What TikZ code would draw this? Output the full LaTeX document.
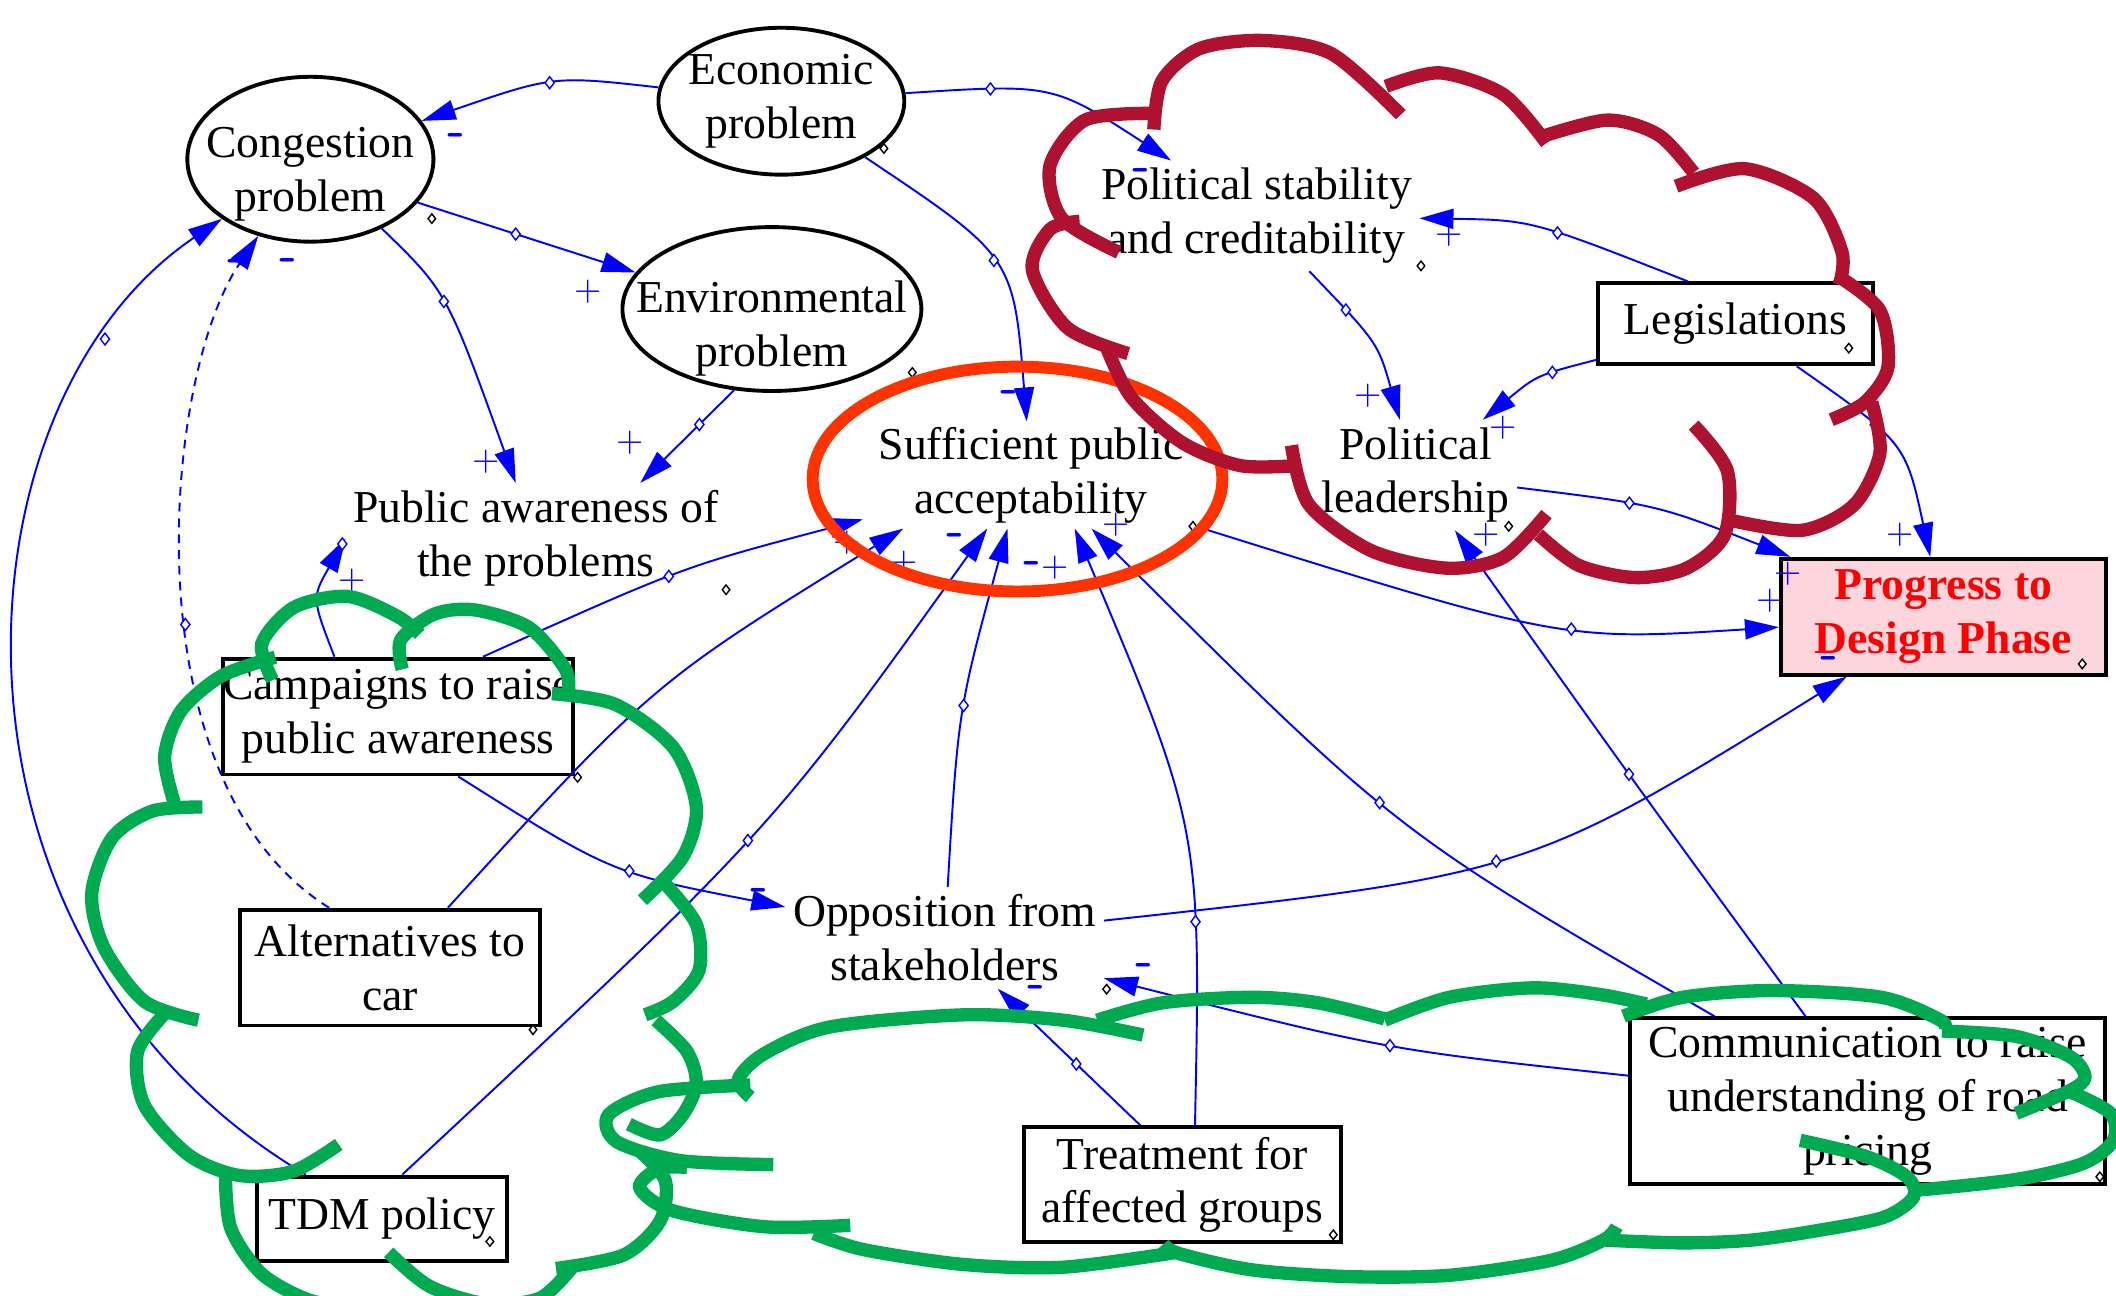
\documentclass[tikz,border=0pt]{standalone}
\usepackage{fontspec}
\setmainfont{Liberation Serif}
\usetikzlibrary{shapes.geometric,arrows.meta,calc,decorations.markings}

\definecolor{linkblue}{RGB}{0,0,255}
\definecolor{cloudred}{RGB}{174,18,48}
\definecolor{cloudgreen}{RGB}{0,170,80}
\definecolor{ringred}{RGB}{255,51,0}
\definecolor{phasepink}{RGB}{252,214,220}

\tikzset{
  var/.style={font=\fontsize{13}{15.3}\selectfont, align=center, inner sep=2pt},
  issue/.style={var, ellipse, draw, line width=1.1pt, inner ysep=-2mm},
  policy/.style={var, rectangle, draw, line width=1.1pt, inner sep=0pt},
  link/.style={linkblue, line width=0.55pt, -{Triangle[length=3.4mm,width=2mm]}},
  hub/.style={postaction={decorate, decoration={markings, mark=at position #1 with {\pgftransformresetnontranslations
    \draw[linkblue, solid, fill=white, line width=0.4pt] (0pt,1.7pt) -- (1.3pt,0pt) -- (0pt,-1.7pt) -- (-1.3pt,0pt) -- cycle;}}}},
  plusmark/.style={linkblue, font=\sffamily\fontsize{10}{10}\selectfont, inner sep=0pt},
  minusmark/.style={linkblue, font=\sffamily\bfseries\fontsize{14}{14}\selectfont, inner sep=0pt},
  tagmark/.style={black, fill=white, line width=0.4pt},
  lobe/.style={line width=3.8pt, line cap=butt},
  ring/.style={ellipse, draw=ringred, line width=3.4pt, minimum width=4.1cm, minimum height=2.25cm, inner sep=0pt}
}

\begin{document}
\begin{tikzpicture}[x=0.0135cm, y=-0.0135cm]
\fill[white] (0,0) rectangle (1568,960);
\useasboundingbox (0,0) rectangle (1568,960);

\node[issue, minimum width=2.46cm, minimum height=1.47cm, inner xsep=-0.6mm] (econ) at (579,75) {Economic\\problem};
\node[issue, minimum width=2.46cm, minimum height=1.65cm, inner xsep=-1.7mm] (cong) at (230,118) {\rule{0pt}{17pt}Congestion\\problem};
\node[issue, minimum width=2.99cm, minimum height=1.64cm, inner xsep=-3mm] (env) at (572,229) {\rule{0pt}{20pt}Environmental\\problem};
\node[var] (aware) at (397,399) {Public awareness of\\the problems};
\node[var, inner xsep=0.15cm, inner ysep=0.05cm] (suff) at (764,352) {Sufficient public\\acceptability};
\node[var] (polstab) at (931,160) {Political stability\\and creditability};
\node[var] (pollead) at (1049,352) {Political\\leadership};
\node[var] (opp) at (700,695) {Opposition from\\stakeholders};
\node[policy, minimum width=2.75cm, minimum height=0.81cm] (legis) at (1286,240) {Legislations};
\node[policy, minimum width=3.25cm, minimum height=1.16cm, fill=phasepink, text=red, font=\fontsize{13}{15.3}\selectfont\bfseries] (goal) at (1440,457) {Progress to\\Design Phase};
\node[policy, minimum width=3.50cm, minimum height=1.16cm] (camp) at (295,531) {Campaigns to raise\\public awareness};
\node[policy, minimum width=3.01cm, minimum height=1.16cm] (alt) at (289,717) {Alternatives to\\car};
\node[policy, minimum width=2.50cm, minimum height=0.84cm] (tdm) at (283,903) {TDM policy};
\node[policy, minimum width=3.17cm, minimum height=1.15cm] (treat) at (876,878) {Treatment for\\affected groups};
\node[policy, minimum width=4.75cm, minimum height=1.66cm] (comm) at (1384,816) {Communication to raise\\understanding of road\\pricing};

\foreach \p in {(320,162),(655,110),(676,276),(1053,197),(1370,258),(1543,492),(428,576),(395,763),(363,920),(988,915),(1556,872),(820,733),(884,390),(1118,390),(538,437)}
  \draw[tagmark] \p ++(0,-3.5) -- ++(2.8,3.5) -- ++(-2.8,3.5) -- ++(-2.8,-3.5) -- cycle;

\draw[link, hub=0.45] (econ) .. controls (410,56) .. (cong);
\draw[link, hub=0.3] (econ) .. controls (780,62) .. (polstab);
\draw[link, hub=0.5] (econ) .. controls (751,190) .. (suff);
\draw[link, hub=0.45] (cong.-22) -- (env.165);
\draw[link, hub=0.33] (cong) .. controls (331,216) .. (aware);
\draw[link, hub=0.37] (env.-115) -- (aware.28);
\draw[link, hub=0.95] ($(camp.north west)!0.32!(camp.north east)$) .. controls (231,443) .. (aware.west);
\draw[link, hub=0.5] ($(camp.north west)!0.74!(camp.north east)$) .. controls (506,420) .. (suff);
\draw[link, hub=0.45] ($(alt.north west)!0.69!(alt.north east)$) .. controls (484,506) .. ($(suff.south west)!0.12!(suff.south east)$);
\draw[link, hub=0.55] ($(tdm.north west)!0.58!(tdm.north east)$) .. controls (571,616) .. ($(suff.south west)!0.37!(suff.south east)$);
\draw[link, hub=0.5] (opp) .. controls (710,526) .. ($(suff.south west)!0.43!(suff.south east)$);
\draw[link, hub=0.33] ($(treat.north west)!0.54!(treat.north east)$) .. controls (890,614) .. ($(suff.south west)!0.63!(suff.south east)$);
\draw[link, hub=0.5] ($(comm.north west)!0.18!(comm.north east)$) .. controls (1035,617) .. ($(suff.south west)!0.68!(suff.south east)$);
\draw[link, hub=0.65] (suff) .. controls (1158,475) .. (goal);
\draw[link, hub=0.3] (polstab) .. controls (1021,254) .. (pollead);
\draw[link, hub=0.5] ($(legis.north west)!0.33!(legis.north east)$) .. controls (1135,163) .. (polstab);
\draw[link, hub=0.35] (legis) .. controls (1139,278) .. (pollead);
\draw[link, hub=0.4] ($(legis.south west)!0.72!(legis.south east)$) .. controls (1412,328) .. (goal);
\draw[link, hub=0.4] (pollead) .. controls (1228,374) .. (goal);
\draw[link, hub=0.5] ($(comm.north west)!0.37!(comm.north east)$) .. controls (1214,584) .. (pollead);
\draw[link, hub=0.5] (opp) .. controls (1132,648) .. (goal);
\draw[link, hub=0.55] ($(camp.south west)!0.67!(camp.south east)$) .. controls (453,647) .. (opp);
\draw[link, hub=0.45] ($(treat.north west)!0.37!(treat.north east)$) -- (opp);
\draw[link, hub=0.45] (comm) .. controls (1028,778) .. (opp);
\draw[link, hub=0.85] ($(tdm.north west)!0.2!(tdm.north east)$) .. controls (-60,700) and (-40,300) .. (cong);
\draw[link, dash pattern=on 2.5pt off 2pt, hub=0.45] ($(alt.north west)!0.3!(alt.north east)$) .. controls (95,580) and (120,280) .. (cong);

\foreach \pt [count=\i] in {(436,216),(360,342),(467,328),(261,430),(628,402),(670,417),(782,421),(827,389),(1014,293),(1074,174),(1114,317),(1101,396),(1408,396),(1325,425),(1312,445)}
  \node[plusmark] (plus\i) at \pt {+};
\foreach \pt [count=\i] in {(338,104),(846,130),(748,294),(708,400),(765,421),(1356,491),(563,663),(768,735),(848,719),(175,197),(214,196)}
  \node[minusmark] (minus\i) at \pt {-};

\node[ring] (ring) at (754,355) {};

\draw[lobe, cloudred] plot[smooth] coordinates {(855,96) (861,60) (889,36) (936,30) (987,40) (1038,85)};
\draw[lobe, cloudred] plot[smooth] coordinates {(1027,64) (1067,54) (1114,70) (1146,106)};
\draw[lobe, cloudred] plot[smooth] coordinates {(1140,102) (1191,89) (1229,100) (1255,128)};
\draw[lobe, cloudred] plot[smooth] coordinates {(1242,138) (1293,125) (1344,147) (1365,187) (1363,211)};
\draw[lobe, cloudred] plot[smooth] coordinates {(1361,204) (1393,230) (1399,272) (1382,298) (1357,311)};
\draw[lobe, cloudred] plot[smooth] coordinates {(1387,298) (1393,336) (1374,374) (1335,393) (1280,385)};
\draw[lobe, cloudred] plot[smooth] coordinates {(1255,315) (1280,349) (1278,396) (1250,421) (1212,428) (1170,419) (1140,396)};
\draw[lobe, cloudred] plot[smooth] coordinates {(1146,381) (1114,413) (1072,421) (1016,408) (970,374) (957,330)};
\draw[lobe, cloudred] plot[smooth] coordinates {(961,345) (919,345) (876,328) (838,294) (819,255)};
\draw[lobe, cloudred] plot[smooth] coordinates {(836,262) (791,243) (765,200) (778,170) (800,164)};
\draw[lobe, cloudred] plot[smooth] coordinates {(829,187) (787,162) (778,123) (804,89) (853,84)};

\draw[lobe, cloudgreen] plot[smooth] coordinates {(202,504) (194,477) (218,450) (258,442) (295,457) (311,470)};
\draw[lobe, cloudgreen] plot[smooth] coordinates {(298,496) (297,474) (322,455) (352,452) (392,465) (419,496) (421,514)};
\draw[lobe, cloudgreen] plot[smooth] coordinates {(409,514) (456,522) (499,554) (516,598) (506,635) (476,667)};
\draw[lobe, cloudgreen] plot[smooth] coordinates {(493,655) (516,685) (518,719) (499,742) (478,752)};
\draw[lobe, cloudgreen] plot[smooth] coordinates {(486,756) (509,779) (516,803) (506,826) (489,841) (466,833)};
\draw[lobe, cloudgreen] plot[smooth] coordinates {(474,853) (493,875) (489,905) (462,930) (412,940)};
\draw[lobe, cloudgreen] plot[smooth] coordinates {(288,928) (318,953) (360,966) (400,962) (425,938)};
\draw[lobe, cloudgreen] plot[smooth] coordinates {(167,870) (171,910) (194,944) (231,964) (270,968)};
\draw[lobe, cloudgreen] plot[smooth] coordinates {(251,848) (217,868) (177,871) (140,856) (107,819) (102,779) (124,749)};
\draw[lobe, cloudgreen] plot[smooth] coordinates {(147,756) (107,742) (77,702) (68,662) (83,621) (113,601) (150,598)};
\draw[lobe, cloudgreen] plot[smooth] coordinates {(130,598) (122,561) (134,527) (164,501) (204,487)};

\draw[lobe, cloudgreen] plot[smooth] coordinates {(556,813) (547,800) (566,781) (615,761) (714,752) (788,756) (847,767)};
\draw[lobe, cloudgreen] plot[smooth] coordinates {(813,756) (862,743) (928,739) (976,743) (1026,755)};
\draw[lobe, cloudgreen] plot[smooth] coordinates {(1026,756) (1074,739) (1136,732) (1186,737) (1220,744)};
\draw[lobe, cloudgreen] plot[smooth] coordinates {(1203,753) (1247,739) (1313,734) (1394,739) (1438,756) (1441,764)};
\draw[lobe, cloudgreen] plot[smooth] coordinates {(1439,764) (1494,768) (1534,783) (1545,798) (1534,808) (1494,825)};
\draw[lobe, cloudgreen] plot[smooth] coordinates {(1534,809) (1564,825) (1566,845) (1544,862) (1494,874) (1420,882)};
\draw[lobe, cloudgreen] plot[smooth] coordinates {(1334,845) (1383,857) (1413,872) (1418,887) (1396,902) (1346,912) (1297,919) (1247,921) (1190,919)};
\draw[lobe, cloudgreen] plot[smooth] coordinates {(1198,909) (1188,919) (1149,934) (1074,945) (1000,946) (928,941) (874,929) (862,922)};
\draw[lobe, cloudgreen] plot[smooth] coordinates {(872,928) (788,939) (714,937) (640,926) (603,914)};
\draw[lobe, cloudgreen] plot[smooth] coordinates {(630,908) (566,909) (498,897) (474,880) (488,866) (509,865)};
\draw[lobe, cloudgreen] plot[smooth] coordinates {(573,863) (504,860) (457,846) (451,826) (488,809) (556,804)};
\end{tikzpicture}
\end{document}
